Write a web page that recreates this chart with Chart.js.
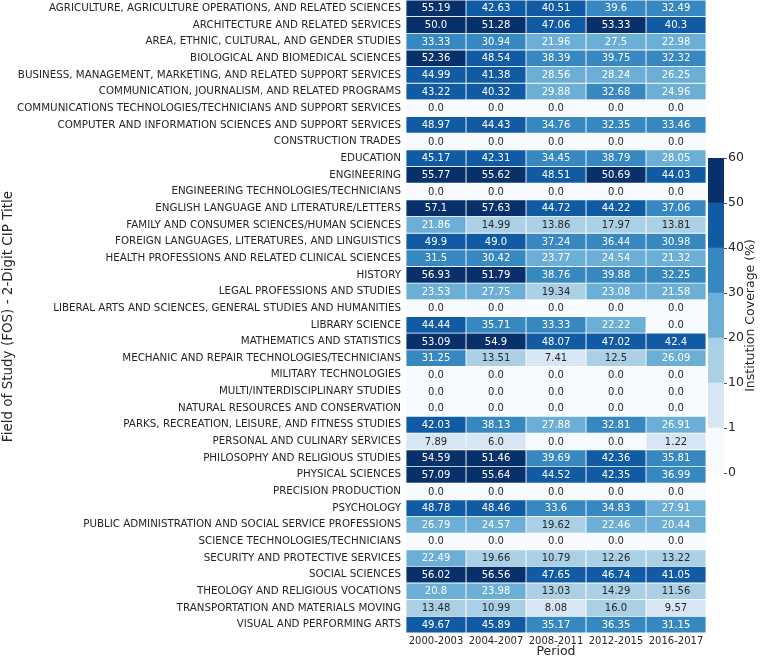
<!DOCTYPE html>
<html><head><meta charset="utf-8">
<script src="https://cdn.jsdelivr.net/npm/chart.js@4"></script>
<style>
html,body{margin:0;padding:0;background:#fff;}
#wrap{position:relative;width:760px;height:657px;overflow:hidden;}
#main{position:absolute;left:0;top:0;}
#cbar{position:absolute;left:690px;top:140px;}
</style></head><body>
<div id="wrap"><canvas id="main" width="760" height="657"></canvas><canvas id="cbar" width="70" height="350"></canvas></div>
<script>
const categories = [
  'AGRICULTURE, AGRICULTURE OPERATIONS, AND RELATED SCIENCES',
  'ARCHITECTURE AND RELATED SERVICES',
  'AREA, ETHNIC, CULTURAL, AND GENDER STUDIES',
  'BIOLOGICAL AND BIOMEDICAL SCIENCES',
  'BUSINESS, MANAGEMENT, MARKETING, AND RELATED SUPPORT SERVICES',
  'COMMUNICATION, JOURNALISM, AND RELATED PROGRAMS',
  'COMMUNICATIONS TECHNOLOGIES/TECHNICIANS AND SUPPORT SERVICES',
  'COMPUTER AND INFORMATION SCIENCES AND SUPPORT SERVICES',
  'CONSTRUCTION TRADES',
  'EDUCATION',
  'ENGINEERING',
  'ENGINEERING TECHNOLOGIES/TECHNICIANS',
  'ENGLISH LANGUAGE AND LITERATURE/LETTERS',
  'FAMILY AND CONSUMER SCIENCES/HUMAN SCIENCES',
  'FOREIGN LANGUAGES, LITERATURES, AND LINGUISTICS',
  'HEALTH PROFESSIONS AND RELATED CLINICAL SCIENCES',
  'HISTORY',
  'LEGAL PROFESSIONS AND STUDIES',
  'LIBERAL ARTS AND SCIENCES, GENERAL STUDIES AND HUMANITIES',
  'LIBRARY SCIENCE',
  'MATHEMATICS AND STATISTICS',
  'MECHANIC AND REPAIR TECHNOLOGIES/TECHNICIANS',
  'MILITARY TECHNOLOGIES',
  'MULTI/INTERDISCIPLINARY STUDIES',
  'NATURAL RESOURCES AND CONSERVATION',
  'PARKS, RECREATION, LEISURE, AND FITNESS STUDIES',
  'PERSONAL AND CULINARY SERVICES',
  'PHILOSOPHY AND RELIGIOUS STUDIES',
  'PHYSICAL SCIENCES',
  'PRECISION PRODUCTION',
  'PSYCHOLOGY',
  'PUBLIC ADMINISTRATION AND SOCIAL SERVICE PROFESSIONS',
  'SCIENCE TECHNOLOGIES/TECHNICIANS',
  'SECURITY AND PROTECTIVE SERVICES',
  'SOCIAL SCIENCES',
  'THEOLOGY AND RELIGIOUS VOCATIONS',
  'TRANSPORTATION AND MATERIALS MOVING',
  'VISUAL AND PERFORMING ARTS'
];
const periods = ['2000-2003', '2004-2007', '2008-2011', '2012-2015', '2016-2017'];

const v2000_2003 = [55.19, 50.0, 33.33, 52.36, 44.99, 43.22, 0.0, 48.97, 0.0, 45.17, 55.77, 0.0, 57.1, 21.86, 49.9, 31.5, 56.93, 23.53, 0.0, 44.44, 53.09, 31.25, 0.0, 0.0, 0.0, 42.03, 7.89, 54.59, 57.09, 0.0, 48.78, 26.79, 0.0, 22.49, 56.02, 20.8, 13.48, 49.67];
const v2004_2007 = [42.63, 51.28, 30.94, 48.54, 41.38, 40.32, 0.0, 44.43, 0.0, 42.31, 55.62, 0.0, 57.63, 14.99, 49.0, 30.42, 51.79, 27.75, 0.0, 35.71, 54.9, 13.51, 0.0, 0.0, 0.0, 38.13, 6.0, 51.46, 55.64, 0.0, 48.46, 24.57, 0.0, 19.66, 56.56, 23.98, 10.99, 45.89];
const v2008_2011 = [40.51, 47.06, 21.96, 38.39, 28.56, 29.88, 0.0, 34.76, 0.0, 34.45, 48.51, 0.0, 44.72, 13.86, 37.24, 23.77, 38.76, 19.34, 0.0, 33.33, 48.07, 7.41, 0.0, 0.0, 0.0, 27.88, 0.0, 39.69, 44.52, 0.0, 33.6, 19.62, 0.0, 10.79, 47.65, 13.03, 8.08, 35.17];
const v2012_2015 = [39.6, 53.33, 27.5, 39.75, 28.24, 32.68, 0.0, 32.35, 0.0, 38.79, 50.69, 0.0, 44.22, 17.97, 36.44, 24.54, 39.88, 23.08, 0.0, 22.22, 47.02, 12.5, 0.0, 0.0, 0.0, 32.81, 0.0, 42.36, 42.35, 0.0, 34.83, 22.46, 0.0, 12.26, 46.74, 14.29, 16.0, 36.35];
const v2016_2017 = [32.49, 40.3, 22.98, 32.32, 26.25, 24.96, 0.0, 33.46, 0.0, 28.05, 44.03, 0.0, 37.06, 13.81, 30.98, 21.32, 32.25, 21.58, 0.0, 0.0, 42.4, 26.09, 0.0, 0.0, 0.0, 26.91, 1.22, 35.81, 36.99, 0.0, 27.91, 20.44, 0.0, 13.22, 41.05, 11.56, 9.57, 31.15];

const binEdges = [0, 1, 10, 20, 30, 40, 50, 60];
const binColors = ['#f7fbff', '#d6e6f4', '#abd0e6', '#6baed6', '#3787c0', '#105ba4', '#08306b'];

const series = [v2000_2003, v2004_2007, v2008_2011, v2012_2015, v2016_2017];

function binOf(v) {
  for (let i = binEdges.length - 2; i >= 0; i--) if (v >= binEdges[i]) return i;
  return 0;
}
function fmt(v) { return Number.isInteger(v) ? v.toFixed(1) : String(v); }

Chart.defaults.font.family = "'DejaVu Sans', sans-serif";
Chart.defaults.color = '#262626';

const cellLabels = {
  id: 'cellLabels',
  afterDatasetsDraw(chart) {
    const ctx = chart.ctx;
    ctx.save();
    ctx.font = "10px 'DejaVu Sans', sans-serif";
    ctx.textAlign = 'center';
    ctx.textBaseline = 'middle';
    chart.data.datasets.forEach((ds, di) => {
      chart.getDatasetMeta(di).data.forEach((el, i) => {
        const v = ds.values[i];
        const p = el.getCenterPoint();
        ctx.fillStyle = binOf(v) >= 3 ? '#ffffff' : '#262626';
        ctx.fillText(fmt(v), p.x, p.y + 0.5);
      });
    });
    ctx.restore();
  }
};

const datasets = series.map((vals, c) => ({
  label: periods[c],
  data: vals.map(() => [c - 0.5, c + 0.5]),
  values: vals,
  backgroundColor: vals.map(v => binColors[binOf(v)]),
  borderColor: '#ffffff',
  borderWidth: 0.75,
  borderSkipped: false,
  barPercentage: 1,
  categoryPercentage: 1,
  grouped: false
}));

new Chart(document.getElementById('main'), {
  type: 'bar',
  data: { labels: categories, datasets },
  options: {
    indexAxis: 'y',
    responsive: false,
    animation: false,
    devicePixelRatio: 1,
    layout: { padding: { left: 0, right: 54, top: 0, bottom: 0 } },
    plugins: { legend: { display: false }, tooltip: { enabled: false } },
    scales: {
      x: {
        type: 'linear', min: -0.5, max: 4.5, position: 'bottom',
        grid: { display: false, drawTicks: false }, border: { display: false },
        afterBuildTicks(s) { s.ticks = periods.map((p, i) => ({ value: i })); },
        ticks: {
          autoSkip: false, maxRotation: 0, minRotation: 0, padding: 2,
          color: '#262626', font: { size: 10 },
          callback: (v) => periods[Math.round(v)] || ''
        },
        title: { display: true, text: 'Period', color: '#262626', font: { size: 12.5 }, padding: { top: 0, bottom: -2 } },
        afterFit(s) { s.height = 24; s.paddingLeft = 0; s.paddingRight = 0; }
      },
      y: {
        type: 'category', offset: true,
        grid: { display: false, drawTicks: false }, border: { display: false },
        ticks: { autoSkip: false, padding: 5, color: '#262626', font: { size: 10.3 } },
        title: { display: true, text: 'Field of Study (FOS) - 2-Digit CIP Title', color: '#262626', font: { size: 13.5 }, padding: 0 },
        afterFit(s) { s.width = 406; s.paddingTop = 0; s.paddingBottom = 0; }
      }
    }
  },
  plugins: [cellLabels]
});

const cbarTitle = {
  id: 'cbarTitle',
  afterDraw(chart) {
    const ctx = chart.ctx;
    const a = chart.chartArea;
    ctx.save();
    ctx.font = "12.5px 'DejaVu Sans', sans-serif";
    ctx.fillStyle = '#262626';
    ctx.textAlign = 'center';
    ctx.textBaseline = 'middle';
    ctx.translate(61, (a.top + a.bottom) / 2);
    ctx.rotate(-Math.PI / 2);
    ctx.fillText('Institution Coverage (%)', 0, 0);
    ctx.restore();
  }
};

new Chart(document.getElementById('cbar'), {
  type: 'bar',
  data: {
    labels: [''],
    datasets: binColors.map((col, i) => ({
      data: [[i, i + 1]], backgroundColor: col, borderWidth: 0,
      barPercentage: 1, categoryPercentage: 1, grouped: false
    }))
  },
  options: {
    responsive: false, animation: false, devicePixelRatio: 1,
    layout: { padding: { left: 18, top: 18, bottom: 17, right: 0 } },
    plugins: { legend: { display: false }, tooltip: { enabled: false } },
    scales: {
      x: { display: false },
      y: {
        position: 'right', min: 0, max: 7,
        grid: { display: true, drawOnChartArea: false, drawTicks: true, tickLength: 3, color: '#262626', lineWidth: 0.8 },
        border: { display: false },
        ticks: { stepSize: 1, autoSkip: false, padding: 1, color: '#262626', font: { size: 12.5 }, callback: (v) => binEdges[v] },
        afterFit(s) { s.width = 36; }
      }
    }
  },
  plugins: [cbarTitle]
});
</script>
</body></html>
